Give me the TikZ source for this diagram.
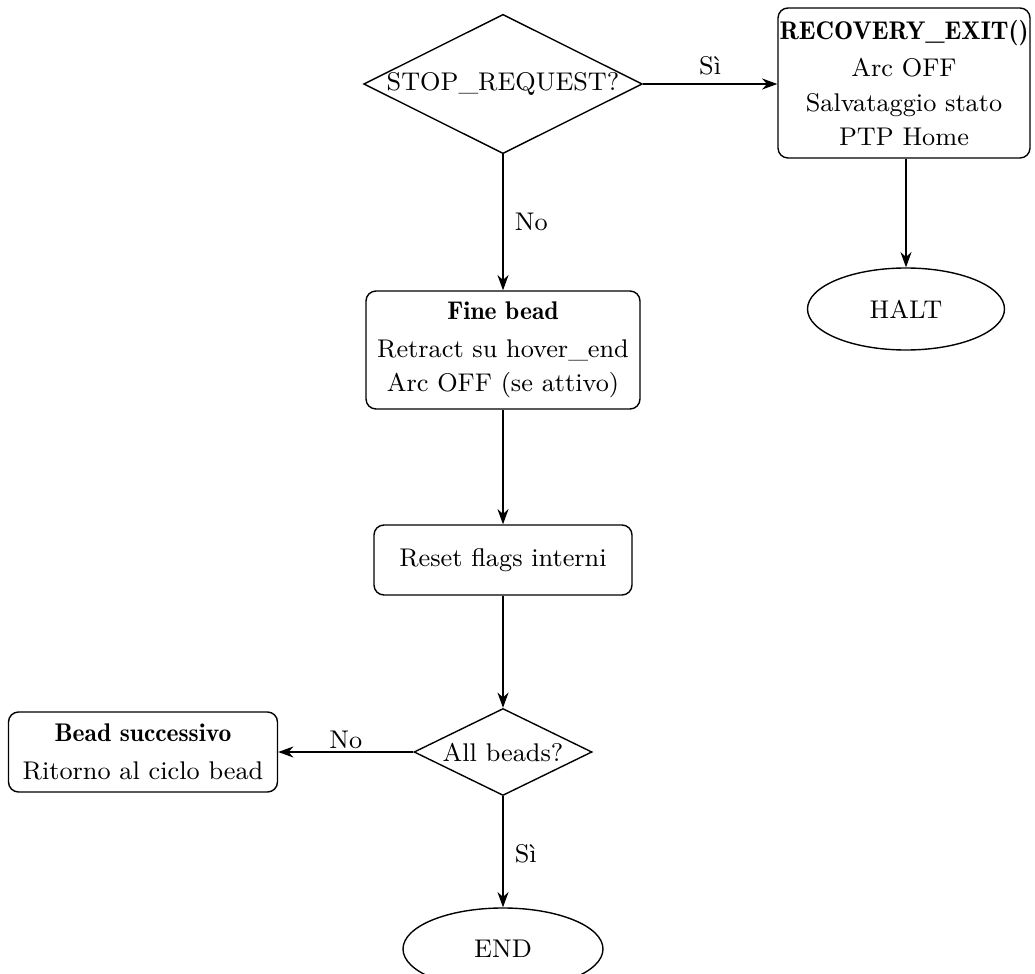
\documentclass[tikz,border=0pt]{standalone}
\usetikzlibrary{shapes.geometric,arrows.meta}
\newlength{\gu}
\setlength{\gu}{0.36pt}
\newcommand{\hd}[1]{{\fontseries{b}\selectfont #1}}
\begin{document}
\begin{tikzpicture}[x=\gu,y=-\gu,
  every node/.style={font=\fontsize{9.2}{12.4}\selectfont},
  procbox/.style={draw,rounded corners=3.6pt,align=center,inner sep=0pt,line width=0.5pt},
  decision/.style={draw,diamond,aspect=2,inner sep=0pt,align=center,line width=0.5pt},
  terminal/.style={draw,ellipse,inner sep=0pt,line width=0.5pt},
  flow/.style={-{Stealth[length=5.5pt,width=4pt]},line width=0.5pt},
  lbl/.style={inner sep=1pt}]
\useasboundingbox (0,0) rectangle (1035,974);
\node[decision,minimum width=276\gu,minimum height=139\gu] (stop) at (503,84) {STOP\_REQUEST?};
\node[procbox,minimum width=252\gu,minimum height=150\gu] (rec) at (904,83)
  {\hd{RECOVERY\_EXIT()}\\[1pt] Arc OFF\\ Salvataggio stato\\ PTP Home};
\node[terminal,minimum width=197\gu,minimum height=82\gu] (halt) at (906,309) {HALT};
\node[procbox,minimum width=274\gu,minimum height=118\gu] (fine) at (503,350)
  {\hd{Fine bead}\\[1pt] Retract su hover\_end\\ Arc OFF (se attivo)};
\node[procbox,minimum width=258\gu,minimum height=70\gu] (reset) at (503,560) {Reset flags interni};
\node[decision,minimum width=178\gu,minimum height=87\gu] (all) at (503,752) {All beads?};
\node[procbox,minimum width=269\gu,minimum height=80\gu] (next) at (143,752)
  {\hd{Bead successivo}\\[1pt] Ritorno al ciclo bead};
\node[terminal,minimum width=200\gu,minimum height=82\gu] (end) at (503,949) {END};

\draw[flow] (stop.east) -- node[lbl,above=2pt] {Sì} (rec.west |- stop.east);
\draw[flow] (rec.south -| halt.north) -- (halt.north);
\draw[flow] (stop.south) -- node[lbl,right=3pt] {No} (fine.north);
\draw[flow] (fine.south) -- (reset.north);
\draw[flow] (reset.south) -- (all.north);
\draw[flow] (all.west) -- node[lbl,above] {No} (next.east);
\draw[flow] (all.south) -- node[lbl,right=3pt,pos=0.52] {Sì} (end.north);
\end{tikzpicture}
\end{document}
